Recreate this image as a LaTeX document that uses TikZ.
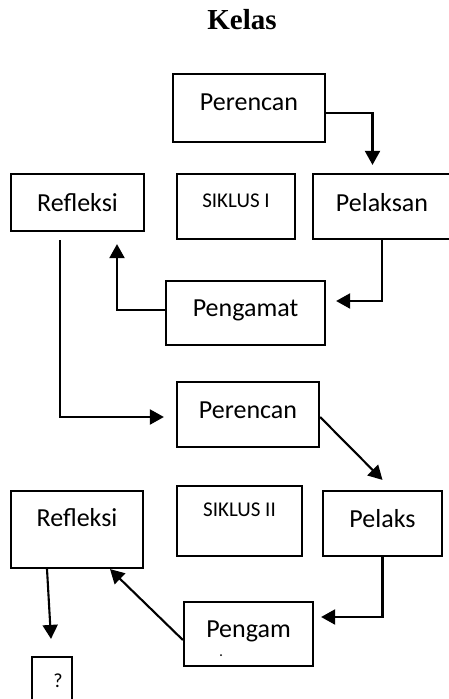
\documentclass[tikz,border=0pt]{standalone}
\usepackage{fontspec}
\setmainfont{Carlito}
\newfontfamily\titlefont{Liberation Serif}
\usetikzlibrary{arrows.meta, positioning}

\tikzset{
  stage/.style={draw, line width=2.2pt, inner sep=0pt,
                font=\fontsize{26}{30}\selectfont, text height=17pt},
  siklusbox/.style={draw, line width=2.2pt, inner sep=0pt,
                font=\fontsize{21}{25}\selectfont, text height=14pt},
  flowarrow/.style={-{Triangle[length=14pt, width=15pt]}, line width=2.1pt},
}

\begin{document}
\begin{tikzpicture}[x=1pt, y=-1pt]
    \useasboundingbox (0,0) rectangle (449,699);

    % Title
    \node[font=\titlefont\bfseries\fontsize{29}{33}\selectfont, anchor=base]
          (title) at (242,29) {Kelas};

    % Siklus I
    \node[stage, minimum width=152pt, minimum height=68pt, text depth=13pt]
          (P1) at (249,108) {Perencan};
    \node[stage, minimum width=133pt, minimum height=57pt, text depth=0pt]
          (R1) at (77.5,202.5) {Refleksi};
    \node[siklusbox, minimum width=118pt, minimum height=65pt, text depth=12pt]
          (S1) at (236,206.5) {SIKLUS I};
    \node[stage, minimum width=138pt, minimum height=65pt, text depth=8pt]
          (L1) at (382,206.5) {Pelaksan};
    \node[stage, minimum width=159pt, minimum height=64pt, text depth=11pt]
          (G1) at (245.5,313) {Pengamat};

    % Siklus II
    \node[stage, minimum width=142pt, minimum height=65pt, text depth=9.4pt]
          (P2) at (248,414.5) {Perencan};
    \node[stage, minimum width=132pt, minimum height=77pt, text depth=24pt]
          (R2) at (77,529.5) {Refleksi};
    \node[siklusbox, minimum width=125pt, minimum height=70pt, text depth=22.6pt]
          (S2) at (239.5,521) {SIKLUS II};
    \node[stage, minimum width=119pt, minimum height=65pt, text depth=9.4pt]
          (L2) at (382.5,523.5) {Pelaks};
    \node[stage, minimum width=129pt, minimum height=64pt, text depth=10.4pt]
          (G2) at (248.5,634) {Pengam};
    \fill (221,655) circle (1pt);

    % Result
    \node[siklusbox, font=\fontsize{20}{24}\selectfont, text height=13pt, text depth=0pt,
          minimum width=40pt, minimum height=48pt]
          (Q) at (52,681) {\hspace*{12pt}?};

    % Arrows, siklus I
    \draw[flowarrow, shorten >=8pt] ([yshift=-5pt]P1.east) -| ([xshift=-9.5pt]L1.north);
    \draw[flowarrow, shorten >=10pt] (L1.south) |- ([yshift=12pt]G1.east);
    \draw[flowarrow, shorten >=12pt] ([yshift=3pt]G1.west) -| ([xshift=39.5pt]R1.south);
    \draw[flowarrow, shorten <=8pt, shorten >=12pt] ([xshift=-17.5pt]R1.south) |- ([yshift=-2.5pt]P2.west);

    % Arrows, siklus II
    \draw[flowarrow] ([yshift=-2.5pt]P2.east) -- ([yshift=10pt]L2.north);
    \draw[flowarrow, shorten >=7pt] (L2.south) |- ([yshift=17pt]G2.east);
    \draw[flowarrow] ([yshift=-6pt]G2.west) -- ([xshift=33pt]R2.south);
    \draw[flowarrow] ([xshift=-30pt]R2.south) -- ([xshift=-1pt, yshift=17pt]Q.north);
  \end{tikzpicture}
\end{document}
